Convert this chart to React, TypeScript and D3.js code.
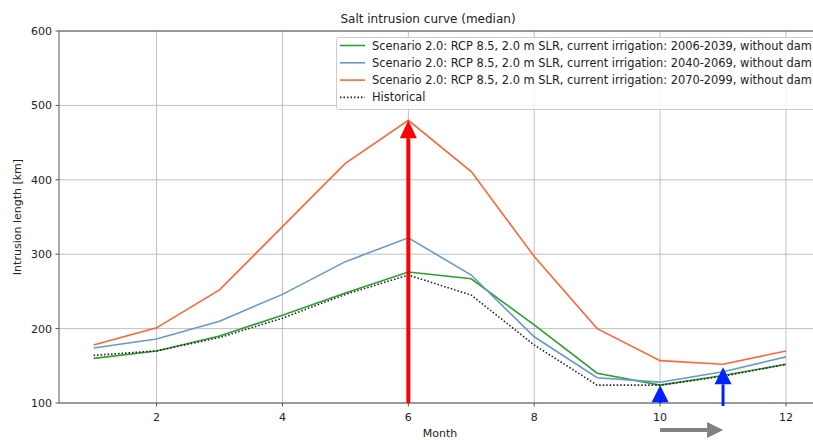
import React from "react";
import * as d3 from "d3";

const months = [1, 2, 3, 4, 5, 6, 7, 8, 9, 10, 11, 12];
const green = [160, 170, 190, 218, 248, 276, 267, 205, 140, 124, 137, 152];
const blue = [174, 186, 210, 246, 290, 322, 272, 189, 134, 128, 142, 162];
const orange = [178, 201, 252, 337, 422, 480, 411, 297, 200, 157, 152, 170];
const historical = [164, 170, 188, 214, 246, 272, 245, 178, 124, 124, 136, 152];
const xTicks = [2, 4, 6, 8, 10, 12];
const yTicks = [100, 200, 300, 400, 500, 600];
const legendLabels = [
  "Scenario 2.0: RCP 8.5, 2.0 m SLR, current irrigation: 2006-2039, without dam",
  "Scenario 2.0: RCP 8.5, 2.0 m SLR, current irrigation: 2040-2069, without dam",
  "Scenario 2.0: RCP 8.5, 2.0 m SLR, current irrigation: 2070-2099, without dam",
  "Historical",
];
// arrows: [month, fromValue, toValue]
const redArrow = [6, 100, 480];
const blueArrows = [
  [10, 100, 124],
  [11, 96, 148],
];
const grayArrow = [10, 11];

export default function App() {
  const W = 813, H = 440;
  const left = 59, right = 820.6, top = 31, bottom = 403;
  const x = d3.scaleLinear().domain([0.45, 12.55]).range([left, right]);
  const y = d3.scaleLinear().domain([100, 600]).range([bottom, top]);
  const line = d3.line<number>().x((_, i) => x(months[i])).y((d) => y(d));
  const series = [
    { data: green, color: "#2ca02c", dash: undefined as string | undefined },
    { data: blue, color: "#6699cc", dash: undefined },
    { data: orange, color: "#ff6633", dash: undefined },
    { data: historical, color: "#222", dash: "1.5,2" },
  ];
  const font = "DejaVu Sans, sans-serif";

  const upArrow = (mx: number, v0: number, v1: number, color: string, sw: number, hw: number, hl: number, key: string) => {
    const cx = x(mx);
    const y0 = y(v0);
    const y1 = y(v1);
    return (
      <g key={key}>
        <line x1={cx} x2={cx} y1={y0} y2={y1 + hl} stroke={color} strokeWidth={sw} />
        <path d={`M${cx},${y1} L${cx - hw / 2},${y1 + hl} L${cx + hw / 2},${y1 + hl} Z`} fill={color} />
      </g>
    );
  };

  const gx0 = x(grayArrow[0]);
  const gx1 = x(grayArrow[1]);
  const gy = 430;

  return (
    <svg width={W} height={H} style={{ position: "absolute", left: 0, top: 0, fontFamily: font }}>
      <rect width={W} height={H} fill="#fff" />
      <text x={428} y={23} fontSize={12} textAnchor="middle" fill="#222">Salt intrusion curve (median)</text>
      {/* grid */}
      {xTicks.map((t) => (
        <line key={"gx" + t} x1={x(t)} x2={x(t)} y1={top} y2={bottom} stroke="#b0b0b0" strokeWidth={0.8} />
      ))}
      {yTicks.map((t) => (
        <line key={"gy" + t} x1={left} x2={W} y1={y(t)} y2={y(t)} stroke="#b0b0b0" strokeWidth={0.8} />
      ))}
      {/* spines */}
      <line x1={left} x2={W} y1={top} y2={top} stroke="#555" strokeWidth={1} />
      <line x1={left} x2={W} y1={bottom} y2={bottom} stroke="#555" strokeWidth={1} />
      <line x1={left} x2={left} y1={top} y2={bottom} stroke="#555" strokeWidth={1} />
      {/* ticks */}
      {xTicks.map((t) => (
        <g key={"tx" + t}>
          <line x1={x(t)} x2={x(t)} y1={bottom} y2={bottom + 3.5} stroke="#555" />
          <text x={x(t)} y={bottom + 18} fontSize={11} textAnchor="middle" fill="#222">{t}</text>
        </g>
      ))}
      {yTicks.map((t) => (
        <g key={"ty" + t}>
          <line x1={left - 3.5} x2={left} y1={y(t)} y2={y(t)} stroke="#555" />
          <text x={left - 7} y={y(t) + 4} fontSize={11} textAnchor="end" fill="#222">{t}</text>
        </g>
      ))}
      <text x={440} y={437} fontSize={11} textAnchor="middle" fill="#222">Month</text>
      <text transform={`translate(21,${(top + bottom) / 2}) rotate(-90)`} fontSize={11} textAnchor="middle" fill="#222">Intrusion length [km]</text>
      {/* lines */}
      {series.map((s, i) => (
        <path key={"s" + i} d={line(s.data) || ""} fill="none" stroke={s.color} strokeWidth={1.6} strokeDasharray={s.dash} />
      ))}
      {/* arrows */}
      {upArrow(redArrow[0], redArrow[1], redArrow[2], "#ff0000", 4, 17, 18, "red")}
      {blueArrows.map((a, i) => upArrow(a[0], a[1], a[2], "#0022ff", 3, 17, 17, "b" + i))}
      <g>
        <line x1={gx0} x2={gx1 - 16} y1={gy} y2={gy} stroke="#808080" strokeWidth={4} />
        <path d={`M${gx1},${gy} L${gx1 - 16},${gy - 8} L${gx1 - 16},${gy + 8} Z`} fill="#808080" />
      </g>
      {/* legend */}
      <g>
        <rect x={336.5} y={37.5} width={490} height={72} rx={2} fill="#fff" fillOpacity={0.8} stroke="#ccc" />
        {legendLabels.map((lab, i) => {
          const ly = 45.5 + i * 17.3;
          const s = series[i];
          return (
            <g key={"l" + i}>
              <line x1={340} x2={365} y1={ly} y2={ly} stroke={s.color} strokeWidth={1.6} strokeDasharray={s.dash} />
              <text x={372} y={ly + 4} fontSize={11.4} fill="#222">{lab}</text>
            </g>
          );
        })}
      </g>
    </svg>
  );
}
